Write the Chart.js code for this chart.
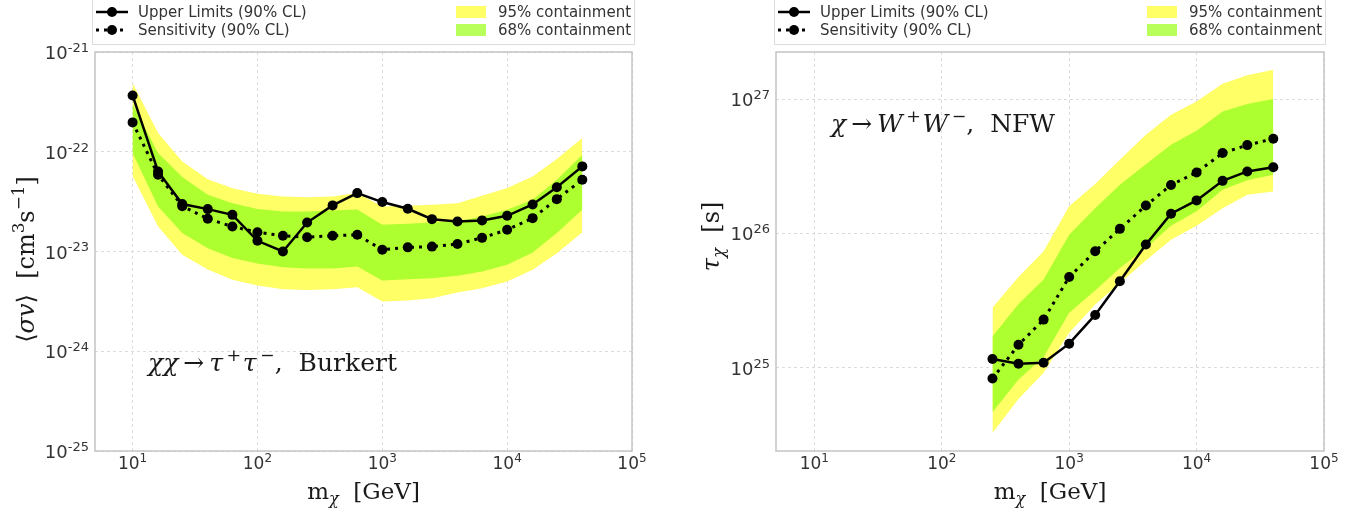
<!DOCTYPE html>
<html>
<head>
<meta charset="utf-8">
<script src="https://cdn.jsdelivr.net/npm/chart.js@4.4.1/dist/chart.umd.min.js"></script>
<style>
  html, body { margin: 0; padding: 0; background: #fff; }
  #wrap { position: relative; width: 1372px; height: 512px; }
  .panel { position: absolute; top: 0; width: 686px; height: 512px; }
</style>
</head>
<body>
<div id="wrap">
  <div class="panel" style="left:0"><canvas id="chartLeft" width="686" height="512"></canvas></div>
  <div class="panel" style="left:686px"><canvas id="chartRight" width="686" height="512"></canvas></div>
</div>
<script>
// painel esquerdo: chichi -> tau+ tau-, Burkert (secao de choque)
const massLeft = [10, 16, 25, 40, 63, 100, 160, 250, 400, 630, 1000, 1600, 2500, 4000, 6300, 10000, 16000, 25000, 40000];
const upperLeft = [3.67e-22, 6.35e-23, 2.99e-23, 2.66e-23, 2.33e-23, 1.28e-23, 1.0e-23, 1.95e-23, 2.9e-23, 3.85e-23, 3.13e-23, 2.68e-23, 2.11e-23, 2.0e-23, 2.05e-23, 2.28e-23, 2.96e-23, 4.41e-23, 7.13e-23];
const sensLeft = [1.97e-22, 5.87e-23, 2.85e-23, 2.13e-23, 1.78e-23, 1.56e-23, 1.44e-23, 1.39e-23, 1.44e-23, 1.47e-23, 1.04e-23, 1.1e-23, 1.12e-23, 1.19e-23, 1.37e-23, 1.65e-23, 2.16e-23, 3.35e-23, 5.24e-23];
const band95HiLeft = [4.9e-22, 1.54e-22, 8.0e-23, 5.3e-23, 4.3e-23, 3.8e-23, 3.56e-23, 3.5e-23, 3.56e-23, 3.85e-23, 2.83e-23, 2.87e-23, 2.94e-23, 3.05e-23, 3.62e-23, 4.32e-23, 5.66e-23, 8.44e-23, 1.37e-22];
const band68HiLeft = [3.0e-22, 9.7e-23, 5.57e-23, 3.7e-23, 3.05e-23, 2.66e-23, 2.52e-23, 2.52e-23, 2.58e-23, 2.63e-23, 1.85e-23, 1.9e-23, 1.95e-23, 2.0e-23, 2.24e-23, 2.62e-23, 3.3e-23, 5.24e-23, 9.33e-23];
const band68LoLeft = [9.7e-23, 2.83e-23, 1.53e-23, 1.08e-23, 8.6e-24, 7.6e-24, 6.97e-24, 6.76e-24, 6.76e-24, 7.08e-24, 5.12e-24, 5.27e-24, 5.4e-24, 5.7e-24, 6.3e-24, 7.35e-24, 9.77e-24, 1.53e-23, 2.62e-23];
const band95LoLeft = [5.7e-23, 1.78e-23, 9.3e-24, 6.6e-24, 5.2e-24, 4.56e-24, 4.19e-24, 4.12e-24, 4.19e-24, 4.38e-24, 3.15e-24, 3.22e-24, 3.4e-24, 3.88e-24, 4.29e-24, 5.0e-24, 6.55e-24, 9.6e-24, 1.56e-23];

// painel direito: chi -> W+ W-, NFW (tempo de vida)
const massRight = [250, 400, 630, 1000, 1600, 2500, 4000, 6300, 10000, 16000, 25000, 40000];
const upperRight = [1.16e25, 1.07e25, 1.09e25, 1.51e25, 2.47e25, 4.4e25, 8.25e25, 1.4e26, 1.76e26, 2.46e26, 2.89e26, 3.11e26];
const sensRight = [8.3e24, 1.48e25, 2.28e25, 4.73e25, 7.35e25, 1.08e26, 1.61e26, 2.29e26, 2.84e26, 3.96e26, 4.54e26, 5.06e26];
const band95HiRight = [2.79e25, 4.73e25, 7.35e25, 1.59e26, 2.33e26, 3.53e26, 5.42e26, 7.63e26, 9.57e26, 1.3e27, 1.5e27, 1.65e27];
const band68HiRight = [1.71e25, 2.98e25, 4.53e25, 9.78e25, 1.54e26, 2.3e26, 3.27e26, 4.56e26, 5.8e26, 8.07e26, 9.2e26, 1.0e27];
const band68LoRight = [4.67e24, 8.17e24, 1.2e25, 2.56e25, 3.75e25, 5.52e25, 7.78e25, 1.14e26, 1.46e26, 2.11e26, 2.48e26, 2.73e26];
const band95LoRight = [3.27e24, 5.86e24, 9.16e24, 1.82e25, 2.95e25, 4.28e25, 6.27e25, 8.97e25, 1.14e26, 1.54e26, 1.94e26, 2.05e26];

// ticks (so as decadas)
const xTicks = [10, 100, 1000, 10000, 100000];
const yTicksLeft = [1e-25, 1e-24, 1e-23, 1e-22, 1e-21];
const yTicksRight = [1e25, 1e26, 1e27];

const legendLabels = ['Upper Limits (90% CL)', 'Sensitivity (90% CL)', '95% containment', '68% containment'];

const YELLOW = '#ffff66';
const GREEN = '#adff2f';
const SERIF = '"DejaVu Serif", "Liberation Serif", serif';
const SANS = '"DejaVu Sans", sans-serif';

const exponentOf = (v) => String(Math.round(Math.log10(v)));
const pts = (xs, ys) => xs.map((x, i) => ({ x: x, y: ys[i] }));

// desenha texto "matematico" com pedacos em italico / sub / sup
function drawRuns(ctx, runs, x, y, size, align) {
    const fontOf = (r) => {
        const s = (r.sub || r.sup) ? size * 0.7 : size;
        return (r.it ? 'italic ' : '') + s + 'px ' + SERIF;
    };
    let total = 0;
    runs.forEach(r => {
        ctx.font = fontOf(r);
        r._w = ctx.measureText(r.t).width + (r.gap || 0) * size;
        total += r._w;
    });
    let cx = align === 'center' ? x - total / 2 : x;
    ctx.textAlign = 'left';
    ctx.textBaseline = 'alphabetic';
    runs.forEach(r => {
        ctx.font = fontOf(r);
        let dy = 0;
        if (r.sub) dy = size * 0.22;
        if (r.sup) dy = -size * 0.42;
        ctx.fillText(r.t, cx, y + dy);
        cx += r._w;
    });
}

// rotulo 10^n com expoente menor e elevado
function drawPower(ctx, v, x, y, align, base, sup) {
    const e = exponentOf(v);
    ctx.font = base + 'px ' + SANS;
    const wb = ctx.measureText('10').width;
    ctx.font = sup + 'px ' + SANS;
    const we = ctx.measureText(e).width;
    const x0 = align === 'center' ? x - (wb + we) / 2 : x - wb - we;
    ctx.textAlign = 'left';
    ctx.textBaseline = 'alphabetic';
    ctx.font = base + 'px ' + SANS;
    ctx.fillText('10', x0, y);
    ctx.font = sup + 'px ' + SANS;
    ctx.fillText(e, x0 + wb, y - base * 0.4);
}

function drawLegend(ctx, boxLeft, boxRight) {
    ctx.fillStyle = '#fff';
    ctx.fillRect(boxLeft, -2, boxRight - boxLeft, 46);
    ctx.strokeStyle = '#dcdcdc';
    ctx.lineWidth = 1;
    ctx.strokeRect(boxLeft + 0.5, -2, boxRight - boxLeft, 46.5);

    const rows = [12, 30];
    ctx.font = '15px ' + SANS;
    ctx.textBaseline = 'middle';
    ctx.textAlign = 'left';
    rows.forEach((ry, i) => {
        // amostra da linha
        ctx.strokeStyle = '#000';
        ctx.lineWidth = i === 0 ? 2.5 : 3;
        ctx.setLineDash(i === 0 ? [] : [3, 5]);
        ctx.beginPath();
        ctx.moveTo(boxLeft + 4, ry);
        ctx.lineTo(boxLeft + 36, ry);
        ctx.stroke();
        ctx.setLineDash([]);
        ctx.fillStyle = '#000';
        ctx.beginPath();
        ctx.arc(boxLeft + 20, ry, 5, 0, Math.PI * 2);
        ctx.fill();
        ctx.fillStyle = '#333';
        ctx.fillText(legendLabels[i], boxLeft + 46, ry + 1);
        // amostra da faixa
        ctx.fillStyle = i === 0 ? YELLOW : '#b9ff5c';
        ctx.fillRect(boxRight - 178, ry - 6, 30, 12);
        ctx.fillStyle = '#333';
        ctx.fillText(legendLabels[i + 2], boxRight - 136, ry + 1);
    });
}

const panelDecor = {
    id: 'panelDecor',
    afterDraw(chart, args, opts) {
        const ctx = chart.ctx;
        const a = chart.chartArea;
        const sx = chart.scales.x, sy = chart.scales.y;
        ctx.save();
        ctx.strokeStyle = '#c4c4c4';
        ctx.lineWidth = 1.5;
        ctx.strokeRect(a.left, a.top, a.right - a.left, a.bottom - a.top);

        // rotulos dos ticks
        ctx.fillStyle = '#333';
        sx.ticks.forEach(t => drawPower(ctx, t.value, sx.getPixelForValue(t.value), a.bottom + 18, 'center', 17, 12));
        sy.ticks.forEach(t => drawPower(ctx, t.value, a.left - 6, sy.getPixelForValue(t.value) + 7, 'right', 18, 13));

        drawLegend(ctx, opts.legendLeft, opts.legendRight);

        ctx.fillStyle = '#1a1a1a';
        drawRuns(ctx, opts.xTitle, (a.left + a.right) / 2, 499, 23, 'center');
        ctx.save();
        ctx.translate(opts.yTitleX, (a.top + a.bottom) / 2 + opts.yTitleShift);
        ctx.rotate(-Math.PI / 2);
        drawRuns(ctx, opts.yTitle, 0, 0, 24, 'center');
        ctx.restore();
        drawRuns(ctx, opts.note, a.left + opts.noteDx, opts.noteY, 25, 'left');
        ctx.restore();
    }
};

function makePanel(canvasId, xs, upper, sens, b95Hi, b95Lo, b68Hi, b68Lo, yMin, yMax, yTicks, cfg) {
    const ctx = document.getElementById(canvasId).getContext('2d');
    const bandStyle = { borderColor: 'rgba(0,0,0,0)', borderWidth: 0, pointRadius: 0, tension: 0 };
    return new Chart(ctx, {
        type: 'line',
        data: {
            datasets: [
                { label: legendLabels[0], data: pts(xs, upper), borderColor: '#000', backgroundColor: '#000',
                  borderWidth: 2.5, pointRadius: 5, pointBackgroundColor: '#000', pointBorderWidth: 0, fill: false, tension: 0, order: 0 },
                { label: legendLabels[1], data: pts(xs, sens), borderColor: '#000', backgroundColor: '#000',
                  borderWidth: 3, borderDash: [3, 5], pointRadius: 5, pointBackgroundColor: '#000', pointBorderWidth: 0, fill: false, tension: 0, order: 0 },
                Object.assign({ label: '68% hi', data: pts(xs, b68Hi), fill: '+1', backgroundColor: GREEN, order: 1 }, bandStyle),
                Object.assign({ label: '68% lo', data: pts(xs, b68Lo), fill: false, order: 1 }, bandStyle),
                Object.assign({ label: '95% hi', data: pts(xs, b95Hi), fill: '+1', backgroundColor: YELLOW, order: 2 }, bandStyle),
                Object.assign({ label: '95% lo', data: pts(xs, b95Lo), fill: false, order: 2 }, bandStyle)
            ]
        },
        options: {
            responsive: false,
            animation: false,
            layout: { padding: cfg.padding },
            plugins: { legend: { display: false }, tooltip: { enabled: false }, panelDecor: cfg.decor },
            scales: {
                x: {
                    type: 'logarithmic', min: 5, max: 1e5,
                    afterBuildTicks: (s) => { s.ticks = xTicks.map(v => ({ value: v })); },
                    afterFit: (s) => { s.height = 61; },
                    ticks: { display: false },
                    grid: { color: '#dcdcdc', lineWidth: 1, drawTicks: false },
                    border: { display: false, dash: [3, 3] }
                },
                y: {
                    type: 'logarithmic', min: yMin, max: yMax,
                    afterBuildTicks: (s) => { s.ticks = yTicks.map(v => ({ value: v })); },
                    afterFit: (s) => { s.width = cfg.yAxisWidth; },
                    ticks: { display: false },
                    grid: { color: '#dcdcdc', lineWidth: 1, drawTicks: false },
                    border: { display: false, dash: [3, 3] }
                }
            }
        },
        plugins: [panelDecor]
    });
}

const titleX = [{ t: 'm' }, { t: 'χ', it: true, sub: true }, { t: '  [GeV]' }];

makePanel('chartLeft', massLeft, upperLeft, sensLeft, band95HiLeft, band95LoLeft, band68HiLeft, band68LoLeft,
    1e-25, 1e-21, yTicksLeft, {
        padding: { left: 0, right: 54, top: 52, bottom: 0 },
        yAxisWidth: 95,
        decor: {
            legendLeft: 92, legendRight: 634, yTitleX: 34, yTitleShift: 8, noteDx: 53, noteY: 371,
            xTitle: titleX,
            yTitle: [{ t: '⟨' }, { t: 'σv', it: true }, { t: '⟩  [cm' }, { t: '3', sup: true }, { t: 's' }, { t: '−1', sup: true }, { t: ']' }],
            note: [{ t: 'χχ', it: true }, { t: '\u2009→\u2009' }, { t: 'τ', it: true, gap: 0.14 }, { t: '+', sup: true, gap: 0.06 },
                   { t: 'τ', it: true, gap: 0.14 }, { t: '−', sup: true }, { t: ',  Burkert' }]
        }
    });

makePanel('chartRight', massRight, upperRight, sensRight, band95HiRight, band95LoRight, band68HiRight, band68LoRight,
    Math.pow(10, 24.38), Math.pow(10, 27.35), yTicksRight, {
        padding: { left: 0, right: 48, top: 52, bottom: 0 },
        yAxisWidth: 90,
        decor: {
            legendLeft: 88, legendRight: 639, yTitleX: 33, yTitleShift: -15, noteDx: 55, noteY: 132,
            xTitle: titleX,
            yTitle: [{ t: 'τ', it: true }, { t: 'χ', it: true, sub: true }, { t: '  [s]' }],
            note: [{ t: 'χ', it: true }, { t: '\u2009→\u2009' }, { t: 'W', it: true, gap: 0.14 }, { t: '+', sup: true, gap: 0.06 },
                   { t: 'W', it: true, gap: 0.14 }, { t: '−', sup: true }, { t: ',  NFW' }]
        }
    });
</script>
</body>
</html>
